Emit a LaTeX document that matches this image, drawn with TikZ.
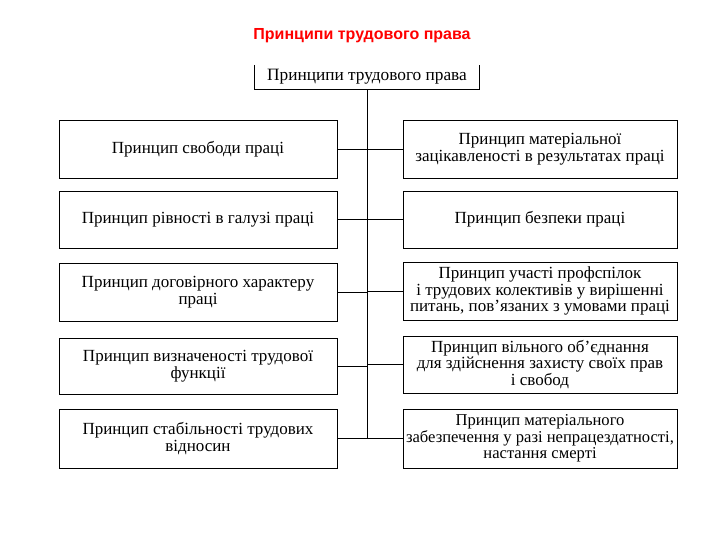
\documentclass[tikz,border=0pt]{standalone}
\usepackage{fontspec}
\setmainfont{Liberation Serif}
\newfontfamily\titlefont{Liberation Sans}
\begin{document}
\begin{tikzpicture}[x=1pt,y=-1pt,
  box/.style={draw=black,line width=0.9pt,align=center,inner sep=1pt,font=\fontsize{17}{16.5}\selectfont},
  lbox/.style={box,minimum width=278pt},
  rbox/.style={box,minimum width=274pt},
  conn/.style={draw=black,line width=0.9pt}]
\useasboundingbox (0,0) rectangle (720,540);
\node[text=red,font=\titlefont\bfseries\fontsize{16}{18}\selectfont] (title) at (362,36) {Принципи трудового права};
\node[align=center,minimum width=224pt,minimum height=24pt,inner sep=0pt,font=\fontsize{17.3}{18}\selectfont] (top) at (367,77) {Принципи трудового права};
\draw[conn] (top.north west) -- (top.south west) -- (top.south east) -- (top.north east);
\node[lbox,minimum height=58pt] (l1) at (198,149) {Принцип свободи праці};
\node[lbox,minimum height=57pt] (l2) at (198,219.5) {Принцип рівності в галузі праці};
\node[lbox,minimum height=58pt] (l3) at (198,292) {Принцип договірного характеру\\праці};
\node[lbox,minimum height=56pt] (l4) at (198,366) {Принцип визначеності трудової\\функції};
\node[lbox,minimum height=59pt] (l5) at (198,438.5) {Принцип стабільності трудових\\відносин};
\node[rbox,minimum height=58pt] (r1) at (540,149) {Принцип матеріальної\\зацікавленості в результатах праці};
\node[rbox,minimum height=57pt] (r2) at (540,219.5) {Принцип безпеки праці};
\node[rbox,minimum height=58pt] (r3) at (540,291) {Принцип участі профспілок\\і трудових колективів у вирішенні\\питань, пов’язаних з умовами праці};
\node[rbox,minimum height=57pt] (r4) at (540,364.5) {Принцип вільного об’єднання\\для здійснення захисту своїх прав\\і свобод};
\node[rbox,minimum height=59pt,font=\fontsize{16.6}{16.5}\selectfont] (r5) at (540,438.5) {Принцип матеріального\\забезпечення у разі непрацездатності,\\настання смерті};
\coordinate (tend) at (top.south |- l5.east);
\draw[conn] (top.south) -- (tend);
\foreach \i in {1,...,5}{
  \draw[conn] (l\i.east) -- (top.south |- l\i.east);
  \draw[conn] (r\i.west) -- (top.south |- r\i.west);
}
\end{tikzpicture}
\end{document}
